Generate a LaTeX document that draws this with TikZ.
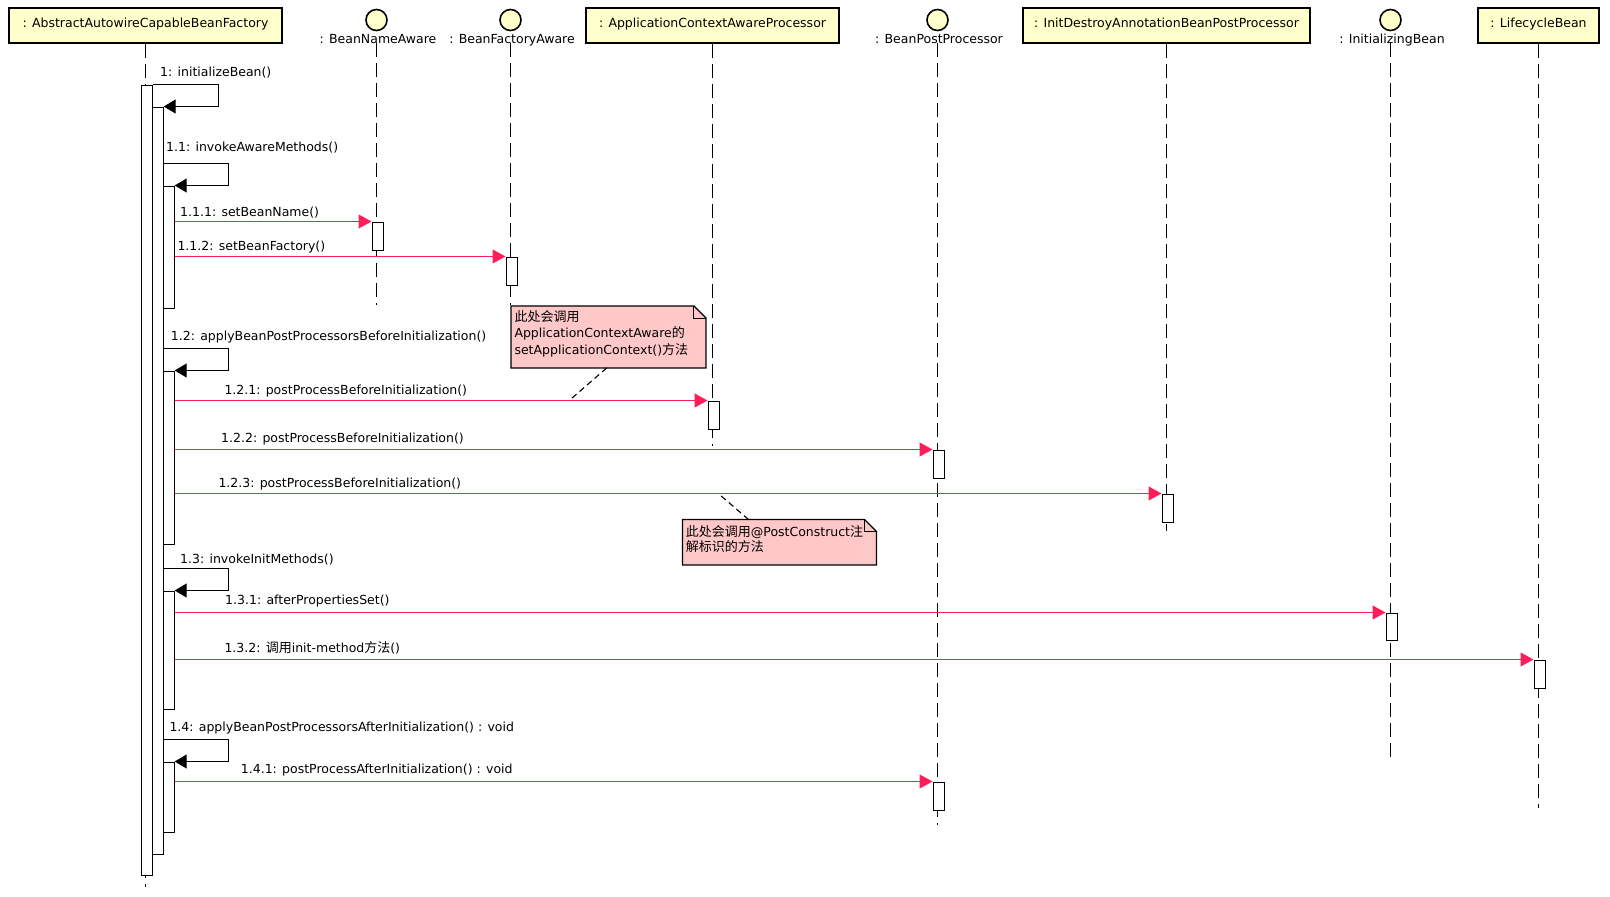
\documentclass[tikz,border=0pt]{standalone}
\usepackage{fontspec}
\setmainfont{DejaVu Sans}
\newfontfamily\zhfont{Noto Sans CJK SC}[Scale=1.04]
\newcommand\zh[1]{{\zhfont #1}}
\newcommand\up[1]{\raisebox{2pt}[\height][\depth]{#1}}
\usetikzlibrary{arrows.meta}
\definecolor{boxfill}{RGB}{255,255,204}
\definecolor{notefill}{RGB}{255,200,200}
\definecolor{msgcol}{RGB}{255,30,90}
\begin{document}
\begin{tikzpicture}[x=1pt,y=-1pt,
  lbl/.style={font=\fontsize{12.5}{15}\selectfont, inner sep=0pt, anchor=base west},
  partbox/.style={draw=black, line width=2pt, fill=boxfill, inner sep=0pt, minimum height=35pt, font=\fontsize{12.5}{15}\selectfont},
  iface/.style={circle, draw=black, line width=1.6pt, fill=boxfill, minimum size=21pt, inner sep=0pt},
  lifeline/.style={draw=black, line width=1.1pt, dash pattern=on 14pt off 6pt},
  actbar/.style={draw=black, line width=1.2pt, fill=white, minimum width=11pt, inner sep=0pt, anchor=north west},
  selfcall/.style={draw=black, line width=1.2pt, -{Triangle[length=12pt,width=14pt]}},
  msg/.style={draw=msgcol, line width=1.1pt, -{Triangle[length=13pt,width=14pt]}},
  notebg/.style={fill=notefill, inner sep=0pt, anchor=north west},
  noteborder/.style={draw=black, line width=1.2pt, line join=miter},
  notetext/.style={inner sep=0pt, anchor=north west, align=left},
  notelink/.style={draw=black, line width=1.1pt, dash pattern=on 6pt off 4pt},
]
\useasboundingbox (0,0) rectangle (1610,897);

% participants
\node[partbox, minimum width=273.4pt] (p1) at (145.5,25.85) {\up{: AbstractAutowireCapableBeanFactory}};
\node[iface] (p2) at (376.5,20) {};
\node[lbl, anchor=base] (p2l) at (378,43) {: BeanNameAware};
\node[iface] (p3) at (510.5,20) {};
\node[lbl, anchor=base] (p3l) at (512,43) {: BeanFactoryAware};
\node[partbox, minimum width=253.4pt] (p5) at (712.5,25.85) {\up{: ApplicationContextAwareProcessor}};
\node[iface] (p4) at (937.5,20) {};
\node[lbl, anchor=base] (p4l) at (939,43) {: BeanPostProcessor};
\node[partbox, minimum width=287.4pt] (p6) at (1166.5,25.85) {\up{: InitDestroyAnnotationBeanPostProcessor}};
\node[iface] (p7) at (1390.5,20) {};
\node[lbl, anchor=base] (p7l) at (1392,43) {: InitializingBean};
\node[partbox, minimum width=121.4pt] (p8) at (1538.5,25.85) {\up{: LifecycleBean}};

% lifeline ends
\coordinate (p1e) at (145.5,887);
\coordinate (p2e) at (376.5,305);
\coordinate (p3e) at (510.5,305);
\coordinate (p5e) at (712.5,446);
\coordinate (p4e) at (937.5,825);
\coordinate (p6e) at (1166.5,531);
\coordinate (p7e) at (1390.5,760);
\coordinate (p8e) at (1538.5,808);

% lifelines
\draw[lifeline] (p1.south) -- (p1e);
\draw[lifeline] (p2l.base -| p2) -- (p2e);
\draw[lifeline] (p3l.base -| p3) -- (p3e);
\draw[lifeline] (p5.south) -- (p5e);
\draw[lifeline] (p4l.base -| p4) -- (p4e);
\draw[lifeline] (p6.south) -- (p6e);
\draw[lifeline] (p7l.base -| p7) -- (p7e);
\draw[lifeline] (p8.south) -- (p8e);

% activation bars on the factory
\node[actbar, minimum height=790pt] (a0) at (140.5,84.5) {};
\node[actbar, minimum height=747pt] (a1) at (151.5,106.5) {};
\node[actbar, minimum height=122pt] (a11) at (162.5,185.5) {};
\node[actbar, minimum height=173pt] (a12) at (162.5,370.5) {};
\node[actbar, minimum height=118pt] (a13) at (162.5,590.5) {};
\node[actbar, minimum height=70pt] (a14) at (162.5,761.5) {};

% target activation bars
\node[actbar, minimum height=28pt] (b111) at (371.5,221.5) {};
\node[actbar, minimum height=28pt] (b112) at (505.5,256.5) {};
\node[actbar, minimum height=28pt] (b121) at (707.5,400.5) {};
\node[actbar, minimum height=28pt] (b122) at (932.5,449.5) {};
\node[actbar, minimum height=28pt] (b123) at (1161.5,493.5) {};
\node[actbar, minimum height=27pt] (b131) at (1385.5,612.5) {};
\node[actbar, minimum height=28pt] (b132) at (1533.5,659.5) {};
\node[actbar, minimum height=28pt] (b141) at (932.5,781.5) {};

% self calls
\draw[selfcall] (a0.north east) -- ++(66,0) |- (a1.north east);
\draw[selfcall] ([yshift=22pt]a11.north west) -- ++(66,0) |- (a11.north east);
\draw[selfcall] ([yshift=22pt]a12.north west) -- ++(66,0) |- (a12.north east);
\draw[selfcall] ([yshift=22pt]a13.north west) -- ++(66,0) |- (a13.north east);
\draw[selfcall] ([yshift=22pt]a14.north west) -- ++(66,0) |- (a14.north east);

% messages
\draw[msg] (a11.east |- b111.north west) -- (b111.north west);
\draw[msg] (a11.east |- b112.north west) -- (b112.north west);
\draw[msg] (a12.east |- b121.north west) -- (b121.north west);
\draw[msg] (a12.east |- b122.north west) -- (b122.north west);
\draw[msg] (a12.east |- b123.north west) -- (b123.north west);
\draw[msg] (a13.east |- b131.north west) -- (b131.north west);
\draw[msg] (a13.east |- b132.north west) -- (b132.north west);
\draw[msg] (a14.east |- b141.north west) -- (b141.north west);

% labels
\node[lbl] (l1) at (160,76) {1: initializeBean()};
\node[lbl] (l11) at (166,151.5) {1.1: invokeAwareMethods()};
\node[lbl] (l111) at (180,216) {1.1.1: setBeanName()};
\node[lbl] (l112) at (177.3,250) {1.1.2: setBeanFactory()};
\node[lbl] (l12) at (170.7,340) {1.2: applyBeanPostProcessorsBeforeInitialization()};
\node[lbl] (l121) at (224.3,394) {1.2.1: postProcessBeforeInitialization()};
\node[lbl] (l122) at (221,442) {1.2.2: postProcessBeforeInitialization()};
\node[lbl] (l123) at (218.3,487) {1.2.3: postProcessBeforeInitialization()};
\node[lbl] (l13) at (180,563.5) {1.3: invokeInitMethods()};
\node[lbl] (l131) at (225,604.5) {1.3.1: afterPropertiesSet()};
\node[lbl] (l132) at (224.3,652) {1.3.2: \zh{调用}init-method\zh{方法}()};
\node[lbl] (l14) at (169.3,731.5) {1.4: applyBeanPostProcessorsAfterInitialization() : void};
\node[lbl] (l141) at (240.7,773) {1.4.1: postProcessAfterInitialization() : void};

% note 1
\node[notebg, minimum width=194.5pt, minimum height=61.5pt] (n1) at (511,306) {};
\fill[white] ([xshift=-12pt]n1.north east) -- (n1.north east) -- ([yshift=-12pt]n1.north east) -- cycle;
\draw[noteborder] (n1.north west) -- ([xshift=-12pt]n1.north east) -- ([yshift=-12pt]n1.north east) -- (n1.south east) -- (n1.south west) -- cycle;
\draw[noteborder, line width=1pt] ([xshift=-12pt]n1.north east) |- ([yshift=-12pt]n1.north east);
\node[notetext, font=\fontsize{12.5}{16.3}\selectfont] (n1t) at (514.3,310.5) {\zh{此处会调用}\\ApplicationContextAware\zh{的}\\setApplicationContext()\zh{方法}};
\coordinate (c121) at (569.3,400.5);
\draw[notelink] ([xshift=95.7pt]n1.south west) -- (c121);

% note 2
\node[notebg, minimum width=193.5pt, minimum height=45pt] (n2) at (682.5,519.5) {};
\fill[white] ([xshift=-12pt]n2.north east) -- (n2.north east) -- ([yshift=-12pt]n2.north east) -- cycle;
\draw[noteborder] (n2.north west) -- ([xshift=-12pt]n2.north east) -- ([yshift=-12pt]n2.north east) -- (n2.south east) -- (n2.south west) -- cycle;
\draw[noteborder, line width=1pt] ([xshift=-12pt]n2.north east) |- ([yshift=-12pt]n2.north east);
\node[notetext, font=\fontsize{12.5}{15}\selectfont] (n2t) at (685.7,525.2) {\zh{此处会调用}@PostConstruct\zh{注}\\\zh{解标识的方法}};
\coordinate (c123) at (718.3,493.5);
\draw[notelink] ([xshift=66pt]n2.north west) -- (c123);
\end{tikzpicture}
\end{document}
